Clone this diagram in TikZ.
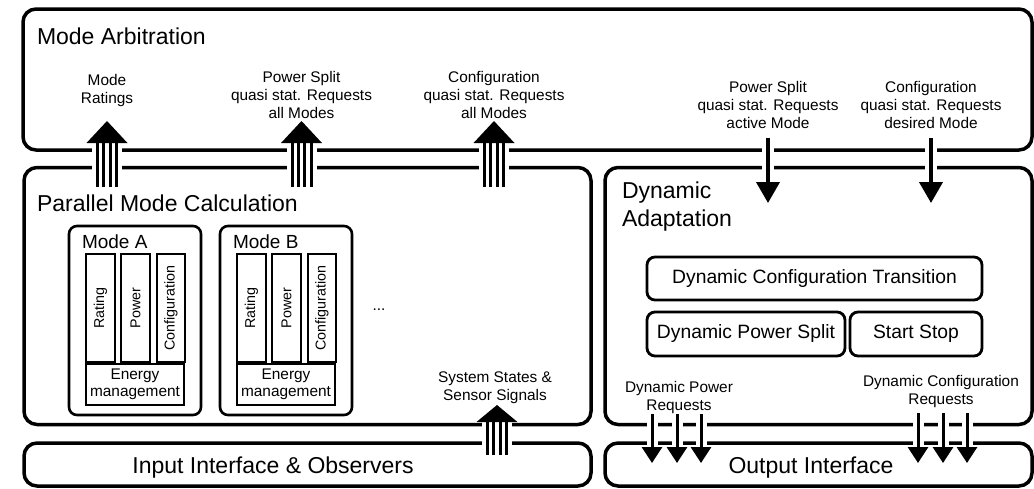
\documentclass[tikz,border=0pt]{standalone}
\usepackage{fontspec}
\setmainfont{Liberation Sans}
\usetikzlibrary{arrows.meta}

% multi-line bus arrow pointing up: #1 tail, #2 tip, #3 head length
\newcommand\busarrow[3]{%
  \draw[gapline=30pt] (#1) -- ([yshift=-#3]#2);
  \foreach \dx in {-9.5,-3.2,3.2,9.5}
    \draw[busline] ([xshift=\dx pt]#1) -- ([xshift=\dx pt, yshift=-#3+1pt]#2);
  \fill ([xshift=-20.5pt, yshift=-#3]#2) -- (#2) -- ([xshift=20.5pt, yshift=-#3]#2) -- cycle;
}

\begin{document}
\begin{tikzpicture}[x=1pt,y=-1pt,
  every node/.style={inner sep=0pt, outer sep=0pt},
  block/.style={draw, line width=3.5pt, rounded corners=13pt},
  modebox/.style={draw, line width=2.6pt, rounded corners=8pt},
  colbox/.style={draw, line width=1.8pt, font=\fontsize{14.3}{17}\selectfont},
  enbox/.style={draw, line width=1.8pt, font=\fontsize{15.4}{17}\selectfont, align=center},
  funcbox/.style={draw, line width=2.8pt, rounded corners=8pt, font=\fontsize{19.3}{23}\selectfont},
  headtext/.style={font=\fontsize{23}{28}\selectfont},
  modetext/.style={font=\fontsize{19}{23}\selectfont},
  sigtext/.style={font=\fontsize{15.4}{18}\selectfont, align=center},
  gapline/.style={draw=white, line width=#1, arrows=-},
  topsig/.style={line width=4pt, -{Triangle[width=23pt,length=21pt]}, preaction={gapline=12pt}},
  botsig/.style={line width=3pt, -{Triangle[width=20pt,length=16pt]}, preaction={gapline=11pt}},
  busline/.style={line width=3pt},
]
\useasboundingbox (0,0) rectangle (1034,488);

% main blocks
\node[block, minimum width=1009pt, minimum height=141pt] (arb) at (527.5,79.5) {};
\node[block, minimum width=567pt, minimum height=257pt] (par) at (307.5,296) {};
\node[block, minimum width=427pt, minimum height=257pt] (dyn) at (818.5,296) {};
\node[block, minimum width=567pt, minimum height=43pt] (inp) at (307.5,464.5) {};
\node[block, minimum width=427pt, minimum height=43pt] (out) at (818.5,464.5) {};

% block titles
\node[headtext, anchor=base west] (arb-title) at (37,44) {Mode Arbitration};
\node[headtext, anchor=base west] (par-title) at (37,211) {Parallel Mode Calculation};
\node[headtext, anchor=north west, align=left] (dyn-title) at (622,182) {Dynamic\\Adaptation};
\node[headtext, anchor=base] (inp-title) at (273,473) {Input Interface \& Observers};
\node[headtext, anchor=base] (out-title) at (811,473) {Output Interface};

% operating modes
\foreach \m/\dx in {A/0, B/151} {
  \node[modebox, minimum width=132pt, minimum height=189pt] (mode\m) at (135+\dx,320.5) {};
  \node[modetext, anchor=base west] (mode\m-title) at (82+\dx,248) {Mode \m};
  \node[colbox, rotate=90, minimum width=108pt, minimum height=29pt] (mode\m-rate) at (100.5+\dx,308) {Rating};
  \node[colbox, rotate=90, minimum width=108pt, minimum height=29pt] (mode\m-pow) at (135.5+\dx,308) {Power};
  \node[colbox, rotate=90, minimum width=108pt, minimum height=28pt] (mode\m-cfg) at (171+\dx,308) {Configuration};
  \node[enbox, minimum width=98pt, minimum height=41pt] (mode\m-em) at (135+\dx,384.5) {Energy\\management};
}
\node[sigtext] (more) at (379,310) {...};

% dynamic adaptation functions
\node[funcbox, minimum width=335pt, minimum height=43pt] (dct) at (814.5,278.5) {Dynamic Configuration Transition};
\node[funcbox, minimum width=198pt, minimum height=44pt] (dps) at (746,334) {Dynamic Power Split};
\node[funcbox, minimum width=132pt, minimum height=44pt] (ss) at (916,334) {Start Stop};

% arrow end points
\coordinate (rate-tail) at (107,187);   \coordinate (rate-tip) at (107,121);
\coordinate (psall-tail) at (301.5,187); \coordinate (psall-tip) at (301.5,121);
\coordinate (cfgall-tail) at (494,187); \coordinate (cfgall-tip) at (494,121);
\coordinate (sys-tail) at (497,455);    \coordinate (sys-tip) at (497,405);
\coordinate (psact-tail) at (768,138);  \coordinate (psact-tip) at (768,203);
\coordinate (cfgdes-tail) at (931,138); \coordinate (cfgdes-tip) at (931,203);

% bus arrows (all modes) upwards
\busarrow{rate-tail}{rate-tip}{22pt}
\busarrow{psall-tail}{psall-tip}{22pt}
\busarrow{cfgall-tail}{cfgall-tip}{22pt}
\busarrow{sys-tail}{sys-tip}{17pt}

% requests of the selected mode downwards
\draw[topsig] (psact-tail) -- (psact-tip);
\draw[topsig] (cfgdes-tail) -- (cfgdes-tip);

% dynamic requests to the output interface
\foreach \x [count=\i] in {652,677,701} {
  \coordinate (dp\i-tail) at (\x,414);
  \coordinate (dp\i-tip) at (\x,463);
  \draw[botsig] (dp\i-tail) -- (dp\i-tip);
}
\foreach \x [count=\i] in {918,943,967} {
  \coordinate (dc\i-tail) at (\x,413);
  \coordinate (dc\i-tip) at (\x,463);
  \draw[botsig] (dc\i-tail) -- (dc\i-tip);
}

% signal labels
\node[sigtext] (rate-lbl) at (107,91) {Mode\\Ratings};
\node[sigtext] (psall-lbl) at (301.5,94.5) {Power Split\\quasi stat. Requests\\all Modes};
\node[sigtext] (cfgall-lbl) at (494,94.5) {Configuration\\quasi stat. Requests\\all Modes};
\node[sigtext] (psact-lbl) at (768,105) {Power Split\\quasi stat. Requests\\active Mode};
\node[sigtext] (cfgdes-lbl) at (931,105) {Configuration\\quasi stat. Requests\\desired Mode};
\node[sigtext] (sys-lbl) at (495,388) {System States \&\\Sensor Signals};
\node[sigtext] (dp-lbl) at (679,397.5) {Dynamic Power\\Requests};
\node[sigtext] (dc-lbl) at (941,391.5) {Dynamic Configuration\\Requests};
\end{tikzpicture}
\end{document}
